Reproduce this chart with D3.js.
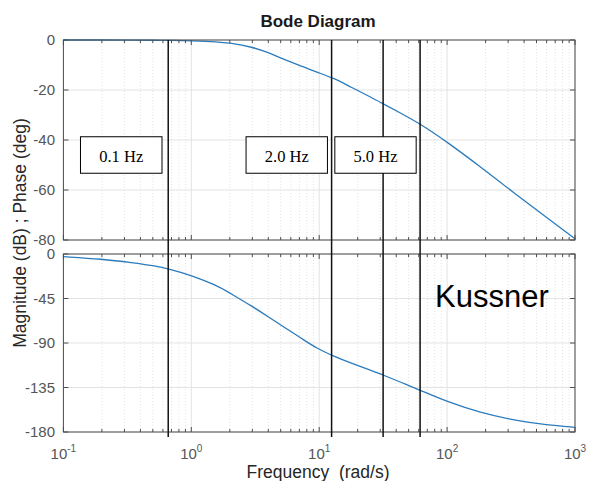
<!DOCTYPE html>
<html>
<head>
<meta charset="utf-8">
<script src="https://cdn.jsdelivr.net/npm/d3@7"></script>
<style>
  body { margin: 0; background: #fff; }
  text { font-family: "Liberation Sans", Arial, sans-serif; }
</style>
</head>
<body>
<script>
// frequency grid (rad/s) and the two curves
const freqs = [0.1, 0.2, 0.35, 0.5, 0.7, 1, 1.6, 2, 3, 4, 5.25, 7.5, 9.5, 12.9, 17.5, 25, 31.6, 45, 63, 100, 180, 350, 600, 1000];
const magDb = [0, 0, -0.05, -0.1, -0.15, -0.35, -0.75, -1.2, -2.8, -5, -7.7, -10.7, -12.8, -15.2, -18.7, -22.7, -25.5, -29.7, -33.8, -40.8, -50.5, -62, -71, -79.5];
const phaseDeg = [-2.7, -5.1, -8.8, -11.5, -15.8, -21.5, -32, -39.5, -53, -63.5, -73.5, -86.5, -95.2, -103.1, -110, -117.4, -122.3, -130.5, -138.3, -149.4, -160.3, -168.7, -172.8, -175.3];

const magTicks = [0, -20, -40, -60, -80];
const phaseTicks = [0, -45, -90, -135, -180];
const decades = [0.1, 1, 10, 100, 1000];
const decadeExp = ["-1", "0", "1", "2", "3"];

// marker lines (rad/s) for 0.1, 2, 5 and 10 Hz
const markerFreqs = [0.66, 12.5, 31.6, 61.5];
// text boxes: label, left and right edge in rad/s
const boxLabels = ["0.1 Hz", "2.0 Hz", "5.0 Hz"];
const boxFrom = [0.136, 2.68, 13.25];
const boxTo = [0.59, 11.6, 57.3];
const boxDb = [-38.7, -53.3];

const W = 589, H = 481;
const left = 63.4, right = 575;
const axisColor = "#4d4d4d";
const gridColor = "#e3e3e3";

const svg = d3.select("body").append("svg")
  .attr("width", W)
  .attr("height", H);
svg.append("rect").attr("width", W).attr("height", H).attr("fill", "#fff");

const x = d3.scaleLog().domain([0.1, 1000]).range([left, right]);
const yMag = d3.scaleLinear().domain([-80, 0]).range([240, 40]);
const yPhase = d3.scaleLinear().domain([-180, 0]).range([432, 254]);

let minors = [];
for (var d = 0.1; d < 1000; d *= 10) {
  for (var k = 2; k <= 9; k++) minors.push(d * k);
}

function panel(y, ticks, values, showX) {
  const [y0, y1] = y.range();
  const g = svg.append("g");

  // grid
  g.selectAll(".minor").data(minors).enter().append("line")
    .attr("x1", d => x(d)).attr("x2", d => x(d))
    .attr("y1", y1).attr("y2", y0)
    .attr("stroke", gridColor).attr("stroke-dasharray", "1,2");
  g.selectAll(".major").data(decades).enter().append("line")
    .attr("x1", d => x(d)).attr("x2", d => x(d))
    .attr("y1", y1).attr("y2", y0)
    .attr("stroke", gridColor);
  g.selectAll(".hgrid").data(ticks).enter().append("line")
    .attr("x1", left).attr("x2", right)
    .attr("y1", d => y(d)).attr("y2", d => y(d))
    .attr("stroke", gridColor);

  // curve
  const line = d3.line()
    .x((d, i) => x(freqs[i]))
    .y(d => y(d))
    .curve(d3.curveBasis);
  g.append("path")
    .attr("d", line(values))
    .attr("fill", "none")
    .attr("stroke", "#2b7bbd")
    .attr("stroke-width", 1.3);

  // ticks inside, top and bottom
  [y0, y1].forEach((yy, s) => {
    const dir = s == 0 ? -1 : 1;
    g.selectAll(null).data(minors).enter().append("line")
      .attr("x1", d => x(d)).attr("x2", d => x(d))
      .attr("y1", yy).attr("y2", yy + dir * 3)
      .attr("stroke", axisColor);
    g.selectAll(null).data(decades).enter().append("line")
      .attr("x1", d => x(d)).attr("x2", d => x(d))
      .attr("y1", yy).attr("y2", yy + dir * 5)
      .attr("stroke", axisColor);
  });
  g.selectAll(null).data(ticks).enter().append("line")
    .attr("x1", left).attr("x2", left + 5)
    .attr("y1", d => y(d)).attr("y2", d => y(d))
    .attr("stroke", axisColor);
  g.selectAll(null).data(ticks).enter().append("line")
    .attr("x1", right).attr("x2", right - 5)
    .attr("y1", d => y(d)).attr("y2", d => y(d))
    .attr("stroke", axisColor);

  g.append("rect")
    .attr("x", left).attr("y", y1)
    .attr("width", right - left).attr("height", y0 - y1)
    .attr("fill", "none").attr("stroke", axisColor);

  g.selectAll(".ylab").data(ticks).enter().append("text")
    .attr("x", 55).attr("y", d => y(d) + 5)
    .attr("text-anchor", "end")
    .attr("font-size", 15)
    .attr("fill", "#555")
    .text(d => d);

  if (showX) {
    const t = g.selectAll(".xlab").data(decades).enter().append("text")
      .attr("x", d => x(d))
      .attr("y", 459)
      .attr("text-anchor", "middle")
      .attr("font-size", 15)
      .attr("fill", "#555");
    t.append("tspan").text("10");
    t.append("tspan").attr("font-size", 10).attr("dy", -7).text((d, i) => decadeExp[i]);
  }
}

panel(yMag, magTicks, magDb, false);
panel(yPhase, phaseTicks, phaseDeg, true);

// vertical marker lines through both panels
svg.selectAll(".marker").data(markerFreqs).enter().append("line")
  .attr("x1", d => x(d)).attr("x2", d => x(d))
  .attr("y1", 40).attr("y2", 437)
  .attr("stroke", "#111").attr("stroke-width", 1.5);

// annotation boxes
const boxes = svg.selectAll(".box").data(boxLabels).enter().append("g");
boxes.append("rect")
  .attr("x", (d, i) => x(boxFrom[i]))
  .attr("y", yMag(boxDb[0]))
  .attr("width", (d, i) => x(boxTo[i]) - x(boxFrom[i]))
  .attr("height", yMag(boxDb[1]) - yMag(boxDb[0]))
  .attr("fill", "#fff").attr("stroke", "#000").attr("stroke-width", 1);
boxes.append("text")
  .attr("x", (d, i) => (x(boxFrom[i]) + x(boxTo[i])) / 2)
  .attr("y", 161.5)
  .attr("text-anchor", "middle")
  .style("font-family", "'Liberation Serif', 'Times New Roman', serif")
  .attr("font-size", 16.5)
  .text(d => d);

svg.append("text")
  .attr("x", 435).attr("y", 306.5)
  .attr("font-size", 31)
  .attr("fill", "#000")
  .text("Kussner");

svg.append("text")
  .attr("x", 318).attr("y", 27)
  .attr("text-anchor", "middle")
  .attr("font-size", 17)
  .attr("font-weight", "bold")
  .attr("fill", "#1a1a1a")
  .text("Bode Diagram");

svg.append("text")
  .attr("x", 318).attr("y", 478)
  .attr("text-anchor", "middle")
  .attr("font-size", 17.5)
  .attr("fill", "#262626")
  .attr("xml:space", "preserve")
  .text("Frequency  (rad/s)");

svg.append("text")
  .attr("transform", "translate(26,233) rotate(-90)")
  .attr("text-anchor", "middle")
  .attr("font-size", 17.5)
  .attr("fill", "#262626")
  .text("Magnitude (dB) ; Phase (deg)");
</script>
</body>
</html>
